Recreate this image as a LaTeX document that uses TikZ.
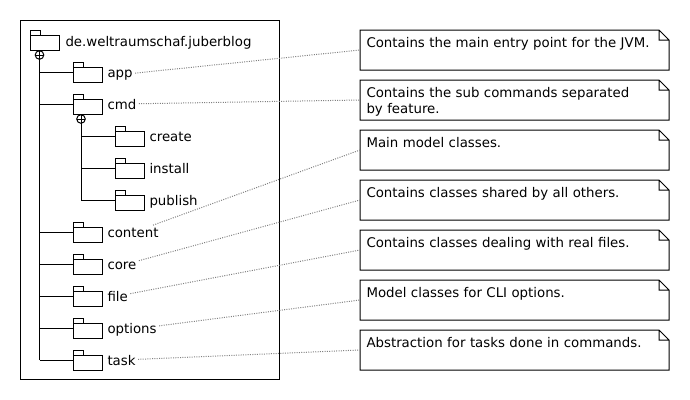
\documentclass[tikz,border=0pt]{standalone}
\usepackage{fontspec}
\setmainfont{DejaVu Sans}
\usetikzlibrary{positioning}

\begin{document}
\begin{tikzpicture}[
    x=0.75pt, y=-0.75pt,
    line width=0.75pt,
    pkg/.style={
      anchor=base west,
      inner sep=1.5pt,
      font=\fontsize{10}{12}\selectfont
    },
    note/.style={
      anchor=north west,
      inner xsep=4.5pt, inner ysep=0pt,
      text width=222pt,
      text height=12.75pt, text depth=16.5pt,
      align=left,
      font=\fontsize{10}{12}\selectfont
    },
    link/.style={densely dotted, gray},
    folder/.pic={
      \draw (0,-9.5) rectangle (10,-5);
      \draw (0,-5) rectangle (29,10);
    },
    nest/.pic={
      \draw (0,0) circle[radius=4.3];
      \draw (-4.3,0) -- (4.3,0) (0,-4.3) -- (0,4.3);
    }
  ]
    \useasboundingbox (0,0) rectangle (690,400);
    % outer package frame
    \draw (20,20) rectangle (279,379);
    \pic at (30,40) {folder};
    \node[pkg] (pRoot) at (63,46) {de.weltraumschaf.juberblog};
    \pic at (39.5,55) {nest};
    \draw (39.5,59.3) -- (39.5,360);

    % first level
    \draw (39.5,72) -- (73,72);   \pic at (73,72) {folder};
    \node[pkg] (pApp) at (105,77) {app};
    \draw (39.5,104) -- (73,104); \pic at (73,104) {folder};
    \node[pkg] (pCmd) at (105,109) {cmd};

    % cmd sub packages
    \pic at (81,119) {nest};
    \draw (81,123.3) -- (81,200);
    \draw (81,136) -- (115,136);  \pic at (115,136) {folder};
    \node[pkg] (pCreate) at (147,141) {create};
    \draw (81,168) -- (115,168);  \pic at (115,168) {folder};
    \node[pkg] (pInstall) at (147,173) {install};
    \draw (81,200) -- (115,200);  \pic at (115,200) {folder};
    \node[pkg] (pPublish) at (147,205) {publish};

    \draw (39.5,232) -- (73,232); \pic at (73,232) {folder};
    \node[pkg] (pContent) at (105,237) {content};
    \draw (39.5,264) -- (73,264); \pic at (73,264) {folder};
    \node[pkg] (pCore) at (105,269) {core};
    \draw (39.5,296) -- (73,296); \pic at (73,296) {folder};
    \node[pkg] (pFile) at (105,301) {file};
    \draw (39.5,328) -- (73,328); \pic at (73,328) {folder};
    \node[pkg] (pOptions) at (105,333) {options};
    \draw (39.5,360) -- (73,360); \pic at (73,360) {folder};
    \node[pkg] (pTask) at (105,365) {task};

    % notes
    \node[note] (nApp) at (360,30) {Contains the main entry point for the JVM.};
    \node[note] (nCmd) at (360,80) {Contains the sub commands separated\\by feature.};
    \node[note] (nContent) at (360,130) {Main model classes.};
    \node[note] (nCore) at (360,180) {Contains classes shared by all others.};
    \node[note] (nFile) at (360,230) {Contains classes dealing with real files.};
    \node[note] (nOptions) at (360,280) {Model classes for CLI options.};
    \node[note] (nTask) at (360,330) {Abstraction for tasks done in commands.};
    \foreach \n in {nApp,nCmd,nContent,nCore,nFile,nOptions,nTask}
      \draw (\n.north west) -- ([xshift=-7.5pt]\n.north east)
        -- ([yshift=-7.5pt]\n.north east) -- (\n.south east)
        -- (\n.south west) -- cycle
        ([xshift=-7.5pt]\n.north east) |- ([yshift=-7.5pt]\n.north east);

    \draw[link] (pApp) -- (nApp.west);
    \draw[link] (pCmd) -- (nCmd.west);
    \draw[link] (pContent) -- (nContent.west);
    \draw[link] (pCore) -- (nCore.west);
    \draw[link] (pFile) -- (nFile.west);
    \draw[link] (pOptions) -- (nOptions.west);
    \draw[link] (pTask) -- (nTask.west);
  \end{tikzpicture}
\end{document}
